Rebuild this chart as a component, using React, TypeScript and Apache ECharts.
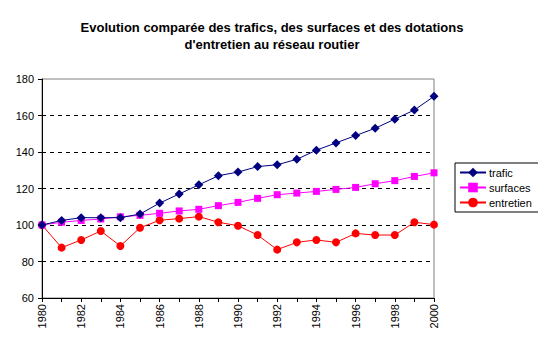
import React, { useEffect, useRef } from "react";
import * as echarts from "echarts";

const years = [
  "1980", "1981", "1982", "1983", "1984", "1985", "1986", "1987", "1988", "1989",
  "1990", "1991", "1992", "1993", "1994", "1995", "1996", "1997", "1998", "1999", "2000",
];
const trafic = [100, 102.5, 104, 104, 104, 106, 112, 117, 122, 127, 129, 132, 133, 136, 141, 145, 149, 153, 158, 163, 170.5];
const surfaces = [100, 101.5, 102.5, 103.3, 104.5, 105.3, 106.4, 107.7, 108.6, 110.6, 112.4, 114.6, 116.6, 117.5, 118.4, 119.5, 120.6, 122.6, 124.3, 126.6, 128.6];
const entretien = [100, 87.6, 91.8, 96.7, 88.5, 98.5, 102.6, 103.5, 104.6, 101.5, 99.6, 94.5, 86.5, 90.5, 91.8, 90.5, 95.4, 94.5, 94.5, 101.5, 100.2];
const titleLines = [
  "Evolution comparée des trafics, des surfaces et des dotations",
  "d'entretien au réseau routier",
];

const FONT = "'Liberation Sans', Arial, sans-serif";

export default function App() {
  const ref = useRef<HTMLDivElement>(null);
  useEffect(() => {
    if (!ref.current) return;
    const chart = echarts.init(ref.current, null, { renderer: "svg" });
    chart.setOption({
      animation: false,
      backgroundColor: "#ffffff",
      title: {
        text: titleLines.join("\n"),
        left: 272,
        textAlign: "center",
        top: 19,
        padding: 0,
        textStyle: {
          fontFamily: FONT,
          fontSize: 13,
          fontWeight: "bold",
          color: "#000",
          lineHeight: 17,
        },
      },
      legend: {
        orient: "vertical",
        left: 455,
        top: 163,
        borderColor: "#000",
        borderWidth: 1,
        padding: [4, 14, 4, 4],
        itemGap: 4,
        itemWidth: 26,
        itemHeight: 12,
        textStyle: { fontFamily: FONT, fontSize: 11, color: "#000", padding: [0, 0, 0, -2] },
        data: ["trafic", "surfaces", "entretien"],
      },
      grid: {
        left: 42,
        right: 112,
        top: 79,
        bottom: 48,
        show: true,
        borderColor: "#808080",
        borderWidth: 1,
      },
      xAxis: {
        type: "category",
        data: years,
        boundaryGap: false,
        axisLine: { lineStyle: { color: "#000", width: 1 } },
        axisTick: { show: true, interval: 0, length: 4, lineStyle: { color: "#000" } },
        axisLabel: {
          interval: 1,
          rotate: 90,
          margin: 6,
          fontFamily: FONT,
          fontSize: 11,
          color: "#000",
        },
        splitLine: { show: false },
      },
      yAxis: {
        type: "value",
        min: 60,
        max: 180,
        interval: 20,
        axisLine: { show: true, lineStyle: { color: "#000", width: 1 } },
        axisTick: { show: true, length: 4, lineStyle: { color: "#000" } },
        axisLabel: { fontFamily: FONT, fontSize: 11, color: "#000", margin: 8 },
        splitLine: {
          show: true,
          lineStyle: {
            color: ["rgba(0,0,0,0)", "#000", "#000", "#000", "#000", "#000", "rgba(0,0,0,0)"],
            type: [4, 4],
            width: 1,
          },
        },
      },
      series: [
        {
          name: "trafic",
          type: "line",
          data: trafic,
          symbol: "diamond",
          symbolSize: 9,
          color: "#000080",
          lineStyle: { width: 1, color: "#000080" },
          itemStyle: { color: "#000080" },
          z: 4,
        },
        {
          name: "surfaces",
          type: "line",
          data: surfaces,
          symbol: "rect",
          symbolSize: 7,
          color: "#ff00ff",
          lineStyle: { width: 1, color: "#ff00ff" },
          itemStyle: { color: "#ff00ff" },
          z: 3,
        },
        {
          name: "entretien",
          type: "line",
          data: entretien,
          symbol: "circle",
          symbolSize: 8,
          color: "#ff0000",
          lineStyle: { width: 1, color: "#ff0000" },
          itemStyle: { color: "#ff0000" },
          z: 2,
        },
      ],
    });
    return () => chart.dispose();
  }, []);
  return <div ref={ref} style={{ width: 546, height: 346, margin: -8 }} />;
}
